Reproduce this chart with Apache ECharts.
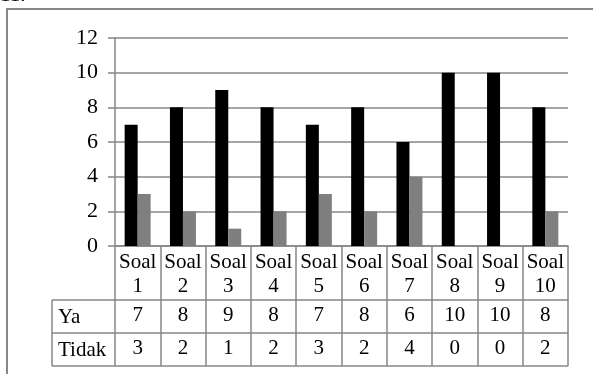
<!DOCTYPE html>
<html>
<head>
<meta charset="utf-8">
<script src="https://cdn.jsdelivr.net/npm/echarts@6/dist/echarts.min.js"></script>
<style>html,body{margin:0;padding:0;background:#fff;}#c{width:593px;height:374px;}</style>
</head>
<body>
<div id="c"></div>
<script>
var categories = ['Soal 1','Soal 2','Soal 3','Soal 4','Soal 5','Soal 6','Soal 7','Soal 8','Soal 9','Soal 10'];
var seriesNames = ['Ya','Tidak'];
var yaValues = [7, 8, 9, 8, 7, 8, 6, 10, 10, 8];
var tidakValues = [3, 2, 1, 2, 3, 2, 4, 0, 0, 2];
var yTicks = [0, 2, 4, 6, 8, 10, 12];

var FONT = '"Liberation Serif", "Times New Roman", serif';
var FS = 21;
var LINE = '#878787';
var chart = echarts.init(document.getElementById('c'));

var gridL = 115, gridR = 568, gridT = 38, gridB = 246;
var headerH = 54, rowH = 33, labelColL = 52;

chart.setOption({
  animation: false,
  backgroundColor: '#fff',
  grid: { left: gridL, right: 593 - gridR, top: gridT, bottom: 374 - gridB, containLabel: false },
  xAxis: [
    {
      type: 'category', data: categories, position: 'bottom', boundaryGap: true,
      axisLine: { show: true, lineStyle: { color: LINE, width: 1.5 } },
      axisTick: { show: true, interval: 0, length: headerH, lineStyle: { color: LINE, width: 1.5 } },
      axisLabel: { interval: 0, margin: 4, fontFamily: FONT, fontSize: FS, color: '#000', lineHeight: 24,
        formatter: function (v) { return v.replace(' ', '\n'); } }
    },
    {
      type: 'category', data: yaValues.map(String), position: 'bottom', offset: headerH, boundaryGap: true,
      axisLine: { show: true, lineStyle: { color: LINE, width: 1.5 } },
      axisTick: { show: true, interval: 0, length: rowH, lineStyle: { color: LINE, width: 1.5 } },
      axisLabel: { interval: 0, margin: 5, fontFamily: FONT, fontSize: FS, color: '#000' }
    },
    {
      type: 'category', data: tidakValues.map(String), position: 'bottom', offset: headerH + rowH, boundaryGap: true,
      axisLine: { show: true, lineStyle: { color: LINE, width: 1.5 } },
      axisTick: { show: true, interval: 0, length: rowH, lineStyle: { color: LINE, width: 1.5 } },
      axisLabel: { interval: 0, margin: 5, fontFamily: FONT, fontSize: FS, color: '#000' }
    }
  ],
  yAxis: {
    type: 'value', min: yTicks[0], max: yTicks[yTicks.length - 1], interval: 2,
    axisLine: { show: true, lineStyle: { color: LINE, width: 1.5 } },
    axisTick: { show: true, length: 7, lineStyle: { color: LINE, width: 1.5 } },
    axisLabel: { margin: 17, fontFamily: FONT, fontSize: 22, color: '#000' },
    splitLine: { show: true, lineStyle: { color: LINE, width: 1.5 } }
  },
  series: [
    { name: seriesNames[0], type: 'bar', data: yaValues, barWidth: 13, barGap: '0%', itemStyle: { color: '#000' } },
    { name: seriesNames[1], type: 'bar', data: tidakValues, barWidth: 13, barGap: '0%', itemStyle: { color: '#7f7f7f' } }
  ],
  graphic: [
    { type: 'polyline', shape: { points: [[7, 374], [7, 9], [593, 9]] }, style: { stroke: LINE, lineWidth: 2, fill: null } },
    { type: 'text', x: 0, y: 6, z: 100, style: { text: '11.', font: FS + 'px ' + FONT, fill: '#000', verticalAlign: 'bottom' } },
    { type: 'line', shape: { x1: labelColL, y1: gridB + headerH, x2: gridL, y2: gridB + headerH }, style: { stroke: LINE, lineWidth: 1.5 } },
    { type: 'line', shape: { x1: labelColL, y1: gridB + headerH + rowH, x2: gridL, y2: gridB + headerH + rowH }, style: { stroke: LINE, lineWidth: 1.5 } },
    { type: 'line', shape: { x1: labelColL, y1: gridB + headerH + 2 * rowH, x2: gridR, y2: gridB + headerH + 2 * rowH }, style: { stroke: LINE, lineWidth: 1.5 } },
    { type: 'line', shape: { x1: labelColL, y1: gridB + headerH, x2: labelColL, y2: gridB + headerH + 2 * rowH }, style: { stroke: LINE, lineWidth: 1.5 } },
    { type: 'text', x: 58, y: gridB + headerH + rowH / 2 + 1, style: { text: seriesNames[0], font: FS + 'px ' + FONT, fill: '#000', verticalAlign: 'middle' } },
    { type: 'text', x: 58, y: gridB + headerH + rowH + rowH / 2 + 1, style: { text: seriesNames[1], font: FS + 'px ' + FONT, fill: '#000', verticalAlign: 'middle' } }
  ]
});
</script>
</body>
</html>
